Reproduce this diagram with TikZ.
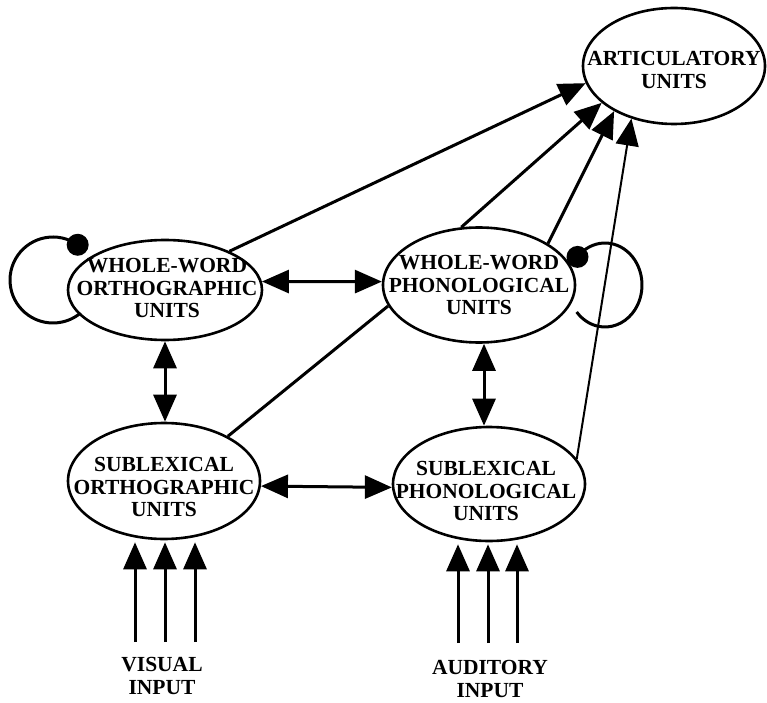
\documentclass[tikz,border=0pt]{standalone}
\usepackage{fontspec}
\setmainfont{Liberation Serif}
\usetikzlibrary{shapes.geometric,arrows.meta,calc}
\begin{document}
\begin{tikzpicture}[x=1pt,y=1pt,
  bigtip/.tip={Triangle[length=27pt,width=23pt]},
  unitshape/.style={draw,ellipse,line width=2.6pt,inner sep=0pt},
  unitlabel/.style={align=center,font=\bfseries\fontsize{21.5}{22.5}\selectfont,inner sep=0pt},
  link/.style={line width=3pt},
  thinlink/.style={line width=2pt},
  fwd/.style={-{bigtip}},
  both/.style={{bigtip}-{bigtip}},
  loopdot/.style={fill=black,radius=11pt}
]
\useasboundingbox (0,0) rectangle (767,702);

% processing units
\node[unitshape,minimum width=182pt,minimum height=116pt] (art) at (674,636) {};
\node[unitshape,minimum width=194pt,minimum height=100pt] (wwo) at (165,412) {};
\node[unitshape,minimum width=192pt,minimum height=115pt] (wwp) at (479,417) {};
\node[unitshape,minimum width=192pt,minimum height=116pt] (slo) at (164,221) {};
\node[unitshape,minimum width=192pt,minimum height=114pt] (slp) at (489,218) {};

\node[unitlabel] at ($(art)+(0,-4)$) {ARTICULATORY\\UNITS};
\node[unitlabel] at ($(wwo)+(2,2)$) {WHOLE-WORD\\ORTHOGRAPHIC\\UNITS};
\node[unitlabel] at (wwp) {WHOLE-WORD\\PHONOLOGICAL\\UNITS};
\node[unitlabel] at ($(slo)+(0,-6)$) {SUBLEXICAL\\ORTHOGRAPHIC\\UNITS};
\node[unitlabel] at ($(slp)+(-3,-7)$) {SUBLEXICAL\\PHONOLOGICAL\\UNITS};

% input labels
\node[unitlabel] (vis) at (162,26) {VISUAL\\INPUT};
\node[unitlabel] (aud) at (490,23) {AUDITORY\\INPUT};

% self-connections of the whole-word units
\coordinate (wwoloop) at (53,422);
\draw[link] ($(wwoloop)+(55:43)$) arc[start angle=55,end angle=310,radius=43];
\fill[loopdot] ($(wwoloop)+(55:43)$) circle;
\coordinate (wwploop) at (605,417);
\draw[link] ($(wwploop)+({37*cos(138)},{42*sin(138)})$)
  arc[start angle=138,end angle=-140,x radius=37,y radius=42];
\fill[loopdot] ($(wwploop)+({37*cos(138)},{42*sin(138)})$) circle;

% bidirectional links
\draw[link,both] (wwo.5) -- (wwp.178);
\draw[link,both] (slo.-3) -- (slp.182);
\draw[link,both] (wwo.south) -- (wwo.south |- slo.north);
\draw[link,both] ($(wwp.south)+(5,0)$) -- ($(slp.north)+(-5,0)$);

% routes to articulation
\draw[link,fwd] (wwo.31) -- (art.191);
\draw[link,fwd] (wwp.107) -- (art.207);
\draw[link,fwd] (wwp.31) -- (art.217);
\draw[thinlink,fwd] (slp.16) -- (art.231);
\draw[link] (slo.35) -- (wwp.193);

% sensory input lines
\foreach \x [count=\i] in {135,165,195} {
  \coordinate (vin\i) at (\x,60);
  \draw[link,fwd,shorten >=2pt] (vin\i) -- (vin\i |- slo.south);
}
\foreach \x [count=\i] in {458,488,517} {
  \coordinate (ain\i) at (\x,59);
  \draw[link,fwd,shorten >=2pt] (ain\i) -- (ain\i |- slp.south);
}
\end{tikzpicture}
\end{document}
